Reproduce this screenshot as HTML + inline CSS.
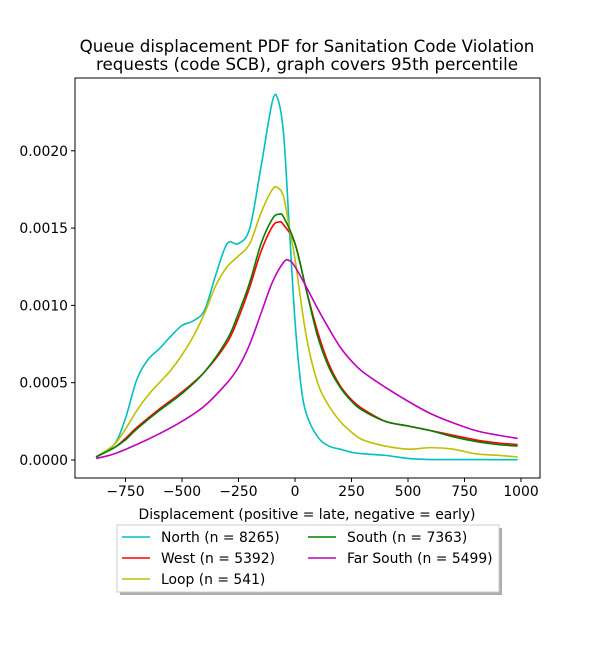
<!DOCTYPE html>
<html><head><meta charset="utf-8">
<style>
body{margin:0;background:#fff;font-family:"Liberation Sans","DejaVu Sans",sans-serif;}
svg text{font-family:"DejaVu Sans","Liberation Sans",sans-serif;}
</style></head>
<body>
<svg id="chart" width="600" height="650" xmlns="http://www.w3.org/2000/svg">
<rect width="600" height="650" fill="#fff"/>
<text x="307" y="52" font-size="16.7" text-anchor="middle">Queue displacement PDF for Sanitation Code Violation</text>
<text x="307" y="70" font-size="16.7" text-anchor="middle">requests (code SCB), graph covers 95th percentile</text>
<g id="plot"></g>
<text x="307" y="519" font-size="13.9" text-anchor="middle">Displacement (positive = late, negative = early)</text>
<g>
<rect x="120" y="528" width="382" height="67" fill="#777" opacity="0.6"/>
<rect x="117" y="525" width="382" height="67" fill="#fff" stroke="#ccc" stroke-width="1"/>
<g id="legend-items"></g>
</g>
</svg>
<script>
const xTicks=[-750,-500,-250,0,250,500,750,1000];
const yTicks=[0,0.0005,0.001,0.0015,0.002];
const yTickLabels=["0.0000","0.0005","0.0010","0.0015","0.0020"];
const seriesNames=["North (n = 8265)","West (n = 5392)","Loop (n = 541)","South (n = 7363)","Far South (n = 5499)"];
const seriesColors=["#00bfbf","#ff0000","#bfbf00","#008000","#bf00bf"];
const northX=[-880,-800,-750,-700,-650,-600,-550,-500,-450,-400,-350,-300,-250,-200,-150,-100,-75,-50,-25,0,25,50,100,150,200,250,300,400,500,600,700,800,900,985];
const northY=[0.00002,0.0001,0.00027,0.00052,0.00065,0.00072,0.0008,0.00087,0.0009,0.00097,0.0012,0.0014,0.0014,0.0015,0.0019,0.00232,0.00233,0.0021,0.0015,0.0009,0.0005,0.0003,0.00015,0.00009,0.00007,0.00005,0.00004,0.00003,0.00001,0.000003,0.000003,0.000003,0.000002,0.000002];
const loopX=[-880,-800,-750,-700,-650,-600,-550,-500,-450,-400,-350,-300,-250,-200,-150,-100,-75,-50,-25,0,50,100,150,200,250,300,400,500,600,700,800,900,985];
const loopY=[0.00002,0.0001,0.0002,0.00032,0.00042,0.0005,0.00058,0.00068,0.0008,0.00095,0.00113,0.00125,0.00132,0.0014,0.0016,0.00175,0.00176,0.0017,0.0015,0.0013,0.0008,0.0005,0.00035,0.00025,0.00018,0.00013,0.00009,0.00007,0.00008,0.00007,0.00004,0.00003,0.00002];
const southX=[-880,-800,-750,-700,-600,-500,-400,-300,-250,-200,-150,-100,-70,-50,0,50,100,150,200,250,300,400,500,600,700,800,900,985];
const southY=[0.00002,0.00008,0.00013,0.0002,0.00032,0.00043,0.00057,0.00078,0.00095,0.00115,0.0014,0.00156,0.00159,0.00157,0.0014,0.0011,0.0008,0.0006,0.00047,0.00038,0.00032,0.00025,0.00022,0.00019,0.00015,0.00012,0.0001,0.00009];
const westX=[-880,-800,-750,-700,-600,-500,-400,-300,-250,-200,-150,-100,-70,-50,0,50,100,150,200,250,300,400,500,600,700,800,900,985];
const westY=[0.00002,0.00008,0.00014,0.00021,0.00033,0.00044,0.00057,0.00076,0.00092,0.00112,0.00135,0.00151,0.00154,0.00152,0.0014,0.0011,0.00083,0.00062,0.00048,0.00039,0.00033,0.00025,0.00022,0.00019,0.00016,0.00013,0.00011,0.0001];
const farSouthX=[-880,-800,-700,-600,-500,-400,-300,-250,-200,-150,-100,-50,-25,0,50,100,150,200,250,300,400,500,600,700,800,900,985];
const farSouthY=[0.00001,0.00004,0.0001,0.00017,0.00025,0.00035,0.0005,0.0006,0.00075,0.00095,0.00115,0.00128,0.00129,0.00125,0.00112,0.00098,0.00085,0.00073,0.00064,0.00057,0.00047,0.00038,0.0003,0.00024,0.00019,0.00016,0.00014];
const seriesXs=[northX,westX,loopX,southX,farSouthX];
const seriesYs=[northY,westY,loopY,southY,farSouthY];
const slugs=["north","west","loop","south","far-south"];

const L=75,R=540,T=78,B=478;
const sx=v=>295+(v/250)*56.5;
const sy=v=>460-v/0.0005*77.3;
const NS="http://www.w3.org/2000/svg";
const plot=document.getElementById('plot');
function mk(tag,attrs,parent){const e=document.createElementNS(NS,tag);for(const k in attrs)e.setAttribute(k,attrs[k]);parent.appendChild(e);return e;}
function smooth(xs,ys){
  const p=xs.map((x,i)=>[sx(x),sy(ys[i])]);
  let d="M"+p[0][0].toFixed(2)+","+p[0][1].toFixed(2);
  for(let i=0;i<p.length-1;i++){
    const p0=p[Math.max(0,i-1)],p1=p[i],p2=p[i+1],p3=p[Math.min(p.length-1,i+2)];
    const c1=[p1[0]+(p2[0]-p0[0])/6,p1[1]+(p2[1]-p0[1])/6];
    const c2=[p2[0]-(p3[0]-p1[0])/6,p2[1]-(p3[1]-p1[1])/6];
    d+=" C"+c1.map(v=>v.toFixed(2)).join(",")+" "+c2.map(v=>v.toFixed(2)).join(",")+" "+p2[0].toFixed(2)+","+p2[1].toFixed(2);
  }
  return d;
}
xTicks.forEach(t=>{
  const x=sx(t);
  const tk=mk('line',{x1:x,x2:x,y1:B,y2:B+4,stroke:'#000'},plot);
  
  
  const lb=mk('text',{x:x,y:B+18,'font-size':13.9,'text-anchor':'middle'},plot);
  lb.textContent=(t<0?"\u2212"+(-t):t);
  
  
});
yTicks.forEach((t,i)=>{
  const y=sy(t);
  const tk=mk('line',{x1:L-4,x2:L,y1:y,y2:y,stroke:'#000'},plot);
  
  
  const lb=mk('text',{x:L-7,y:y+5,'font-size':13.9,'text-anchor':'end'},plot);
  lb.textContent=yTickLabels[i];
  
  
});
seriesXs.forEach((xs,i)=>{
  const p=mk('path',{d:smooth(xs,seriesYs[i]),fill:'none',stroke:seriesColors[i],'stroke-width':1.6},plot);
  
  
});
const frame=mk('rect',{x:L,y:T,width:R-L,height:B-T,fill:'none',stroke:'#000','stroke-width':1},plot);


const lg=document.getElementById('legend-items');
const pos=[[122,537],[122,558],[122,579],[308,537],[308,558]];
seriesNames.forEach((n,i)=>{
  const [x,y]=pos[i];
  const ln=mk('line',{x1:x,x2:x+28,y1:y,y2:y,stroke:seriesColors[i],'stroke-width':1.6},lg);
  
  
  const tx=mk('text',{x:x+39,y:y+5,'font-size':13.9},lg);
  tx.textContent=n;
  
  
});
</script>
</body></html>
